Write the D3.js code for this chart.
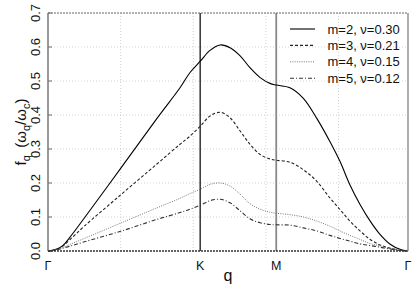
<!DOCTYPE html>
<html><head><meta charset="utf-8">
<script src="https://cdn.jsdelivr.net/npm/d3@7"></script>
<style>body{margin:0;background:#fff}svg{display:block}text{font-family:"Liberation Sans",Arial,sans-serif;fill:#111}</style>
</head><body><svg id="c" width="415" height="290"></svg>
<script>
// q along path Γ-K-M-Γ (hexagonal BZ, a=1)
const qPts = [0,0.2,0.4,0.6,1.0,2.0,3.0,3.634,3.91,4.20,4.46,4.74,5.01,5.29,5.56,5.84,6.11,6.283,6.66,7.03,7.40,7.76,8.04,8.31,8.59,8.87,9.14,9.42,9.69,9.911];
const m2 = [0,0.004,0.015,0.040,0.097,0.243,0.390,0.480,0.525,0.559,0.590,0.606,0.598,0.574,0.539,0.510,0.493,0.488,0.480,0.449,0.390,0.322,0.263,0.195,0.137,0.088,0.049,0.020,0.005,0];
const m3 = [0,0.004,0.014,0.033,0.073,0.165,0.256,0.314,0.338,0.368,0.397,0.408,0.392,0.353,0.314,0.284,0.271,0.267,0.261,0.239,0.205,0.156,0.122,0.088,0.059,0.034,0.018,0.008,0.002,0];
const m4 = [0,0.003,0.010,0.019,0.037,0.082,0.127,0.155,0.169,0.182,0.196,0.200,0.191,0.167,0.139,0.123,0.114,0.111,0.107,0.100,0.088,0.073,0.059,0.046,0.034,0.022,0.015,0.008,0.003,0];
const m5 = [0,0.002,0.008,0.014,0.027,0.058,0.093,0.113,0.123,0.135,0.148,0.152,0.142,0.118,0.095,0.083,0.078,0.077,0.076,0.068,0.059,0.046,0.037,0.029,0.021,0.016,0.011,0.006,0.002,0];
const seriesNames = ["m=2, \u03bd=0.30","m=3, \u03bd=0.21","m=4, \u03bd=0.15","m=5, \u03bd=0.12"];
const symPos = [0, 4*Math.PI/3, 2*Math.PI, 2*Math.PI + 2*Math.PI/Math.sqrt(3)];
const symLabels = ["\u0393","K","M","\u0393"];
const yTicks = [0,0.1,0.2,0.3,0.4,0.5,0.6,0.7];
const xGrid = [2,4,6,8];

const svg = d3.select("#c");
const L=48,R=408,T=13,B=251;
const x = d3.scaleLinear().domain([0, symPos[3]]).range([L,R]);
const y = d3.scaleLinear().domain([0,0.7]).range([B,T]);

// grid
svg.append("g").selectAll("line").data(yTicks.slice(1,-1)).join("line")
  .attr("x1",L).attr("x2",R).attr("y1",d=>y(d)).attr("y2",d=>y(d))
  .attr("stroke","#c8c8c8").attr("stroke-width",0.8).attr("stroke-dasharray","1,2");
svg.append("g").selectAll("line").data(xGrid).join("line")
  .attr("x1",d=>x(d)).attr("x2",d=>x(d)).attr("y1",T).attr("y2",B)
  .attr("stroke","#c8c8c8").attr("stroke-width",0.8).attr("stroke-dasharray","1,2");

// y axis ticks & labels
const ya = svg.append("g");
ya.selectAll("line").data(yTicks).join("line")
  .attr("x1",L).attr("x2",L+4).attr("y1",d=>y(d)).attr("y2",d=>y(d)).attr("stroke","#666");
ya.selectAll("text").data(yTicks).join("text")
  .attr("transform",d=>`translate(40,${y(d)}) rotate(-90)`)
  .attr("text-anchor","middle").attr("font-size",13).text(d=>d.toFixed(1));

// K, M vertical lines
svg.append("line").attr("x1",x(symPos[1])).attr("x2",x(symPos[1])).attr("y1",T).attr("y2",B).attr("stroke","#000").attr("stroke-width",1.2);
svg.append("line").attr("x1",x(symPos[2])).attr("x2",x(symPos[2])).attr("y1",T).attr("y2",B).attr("stroke","#888").attr("stroke-width",1.8);

// x labels
svg.append("g").selectAll("text").data(symPos).join("text")
  .attr("x",d=>x(d)).attr("y",270).attr("text-anchor","middle").attr("font-size",12.5)
  .text((d,i)=>symLabels[i]);
svg.append("text").attr("x",228).attr("y",281).attr("text-anchor","middle").attr("font-size",16).text("q");

// y label
const yl = svg.append("text").attr("transform","translate(26,132) rotate(-90)").attr("text-anchor","middle").attr("font-size",15);
yl.append("tspan").text("f");
yl.append("tspan").attr("font-size",11).attr("dy",4).text("q");
yl.append("tspan").attr("dy",-4).text("\u2002(\u03c9");
yl.append("tspan").attr("font-size",11).attr("dy",4).text("q");
yl.append("tspan").attr("dy",-4).text("/\u03c9");
yl.append("tspan").attr("font-size",11).attr("dy",4).text("c");
yl.append("tspan").attr("dy",-4).text(")");

// curves
const styles = [
  {c:"#000",w:1.1,d:null},
  {c:"#222",w:1.1,d:"3,2"},
  {c:"#777",w:1,d:"1,1.3"},
  {c:"#333",w:1.1,d:"4,2,1,2"}
];
const data = [m2,m3,m4,m5];
const line = d3.line().x((d,i)=>x(qPts[i])).y(d=>y(d)).curve(d3.curveCatmullRom.alpha(0.5));
data.forEach((s,k)=>{
  svg.append("path").attr("d",line(s)).attr("fill","none")
    .attr("stroke",styles[k].c).attr("stroke-width",styles[k].w)
    .attr("stroke-dasharray",styles[k].d);
});

// frame
svg.append("line").attr("x1",L).attr("x2",L).attr("y1",T).attr("y2",B).attr("stroke","#777").attr("stroke-width",1.5);
svg.append("line").attr("x1",R).attr("x2",R).attr("y1",T).attr("y2",B).attr("stroke","#777").attr("stroke-width",1.2);
svg.append("line").attr("x1",L).attr("x2",R).attr("y1",T).attr("y2",T).attr("stroke","#666").attr("stroke-width",1).attr("stroke-dasharray","2,1");
svg.append("line").attr("x1",L).attr("x2",R).attr("y1",B).attr("y2",B).attr("stroke","#333").attr("stroke-width",1.3).attr("stroke-dasharray","2,1");

// legend
const lg = svg.append("g");
seriesNames.forEach((n,k)=>{
  const yy = 29 + k*16.4;
  lg.append("line").attr("x1",290).attr("x2",315).attr("y1",yy).attr("y2",yy)
    .attr("stroke",styles[k].c).attr("stroke-width",styles[k].w).attr("stroke-dasharray",styles[k].d);
  lg.append("text").attr("x",327.5).attr("y",yy+4.5).attr("font-size",13).text(n);
});
</script></body></html>
